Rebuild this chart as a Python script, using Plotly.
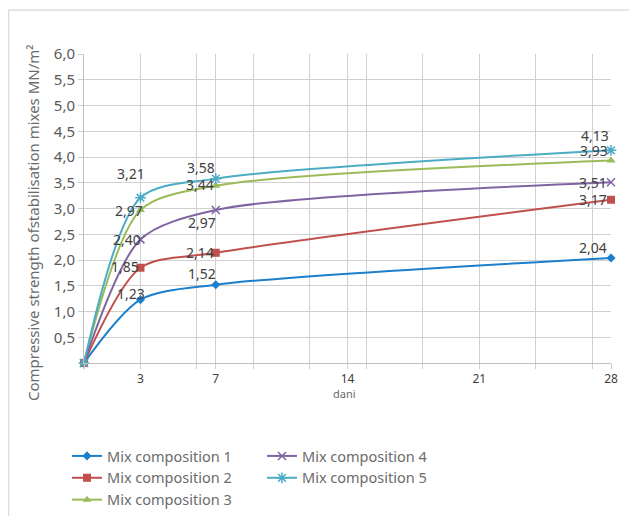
import plotly.graph_objects as go

days = [0, 3, 7, 28]
mix1 = [0, 1.23, 1.52, 2.04]
mix2 = [0, 1.85, 2.14, 3.17]
mix3 = [0, 2.97, 3.44, 3.93]
mix4 = [0, 2.40, 2.97, 3.51]
mix5 = [0, 3.21, 3.58, 4.13]
names = ["Mix composition 1", "Mix composition 2", "Mix composition 3",
         "Mix composition 4", "Mix composition 5"]
y_ticks = [0.5, 1.0, 1.5, 2.0, 2.5, 3.0, 3.5, 4.0, 4.5, 5.0, 5.5, 6.0]
x_ticks = [3, 7, 14, 21, 28]

series = [mix1, mix2, mix3, mix4, mix5]
colors = ["#1B7FCC", "#C0504D", "#9BBB59", "#8064A2", "#4BACC6"]
symbols = ["diamond", "square", "triangle-up", "x-thin-open", "asterisk-open"]
msizes = [7, 8, 8, 8, 9]
# label offsets (px) from each point: (dx, dy up), for days 3, 7, 28
label_offsets = [
    [(-9, 6), (-14, 11), (-18, 10)],
    [(-15, 1), (-16, 0), (-18, 0)],
    [(-11, 0), (-16, 1), (-17, 10)],
    [(-13, 0), (-14, -12), (-18, 0)],
    [(-9, 24), (-15, 11), (-16, 15)],
]
legend_ids = ["legend", "legend", "legend", "legend2", "legend2"]

def fmt(v):
    return f"{v:.2f}".replace(".", ",")

# page body adds an 8px offset; figure is sized so the picture lines up
OFF = 8
W, H = 637, 516
L, R, T, B = 84, 611, 54, 363
pw, ph = R - L, B - T

def px(x):
    return (x - L) / pw

def py(y):
    return (B - y) / ph

fig = go.Figure()
for i, s in enumerate(series):
    open_sym = symbols[i].endswith("open")
    fig.add_trace(go.Scatter(
        x=days, y=s, name=names[i], mode="lines+markers",
        line=dict(color=colors[i], width=2, shape="spline", smoothing=0.8),
        marker=dict(symbol=symbols[i], size=msizes[i], color=colors[i],
                    line=dict(color=colors[i], width=1.5 if open_sym else 0)),
        legend=legend_ids[i], cliponaxis=False,
    ))
    for j in range(1, len(days)):
        dx, dy = label_offsets[i][j - 1]
        fig.add_annotation(x=days[j], y=s[j], text=fmt(s[j]), showarrow=False,
                           xanchor="center", yanchor="middle", xshift=dx, yshift=dy,
                           font=dict(size=14, color="#404040"))

grid = "#D0D0D0"
leg_common = dict(orientation="v", xanchor="left", yanchor="top", tracegroupgap=0,
                  font=dict(size=14.5, color="#6B6B6B"), itemwidth=30,
                  bgcolor="rgba(0,0,0,0)")
fig.update_layout(
    width=W - OFF, height=H - OFF,
    margin=dict(l=L - OFF, r=W - R, t=T - OFF, b=H - B, autoexpand=False),
    paper_bgcolor="white", plot_bgcolor="white",
    font=dict(family="Noto Sans", color="#595959"),
    showlegend=True,
    legend=dict(x=px(67), y=py(440), **leg_common),
    legend2=dict(x=px(262), y=py(440), **leg_common),
    xaxis=dict(range=[0, 28], tickvals=x_ticks, ticktext=[str(v) for v in x_ticks],
               showgrid=True, gridcolor=grid, gridwidth=1,
               ticks="outside", ticklen=5, tickcolor=grid,
               tickfont=dict(size=12, color="#404040"),
               minor=dict(tickmode="linear", tick0=0, dtick=3, showgrid=True,
                          gridcolor=grid, gridwidth=1, ticks="outside", ticklen=5,
                          tickcolor=grid),
               showline=True, linecolor="#BFBFBF", linewidth=1, zeroline=False,
               fixedrange=True, automargin=False),
    yaxis=dict(range=[0, 6], tickvals=y_ticks,
               ticktext=[f"{v:.1f}".replace(".", ",") for v in y_ticks],
               showgrid=True, gridcolor=grid, gridwidth=1,
               ticks="outside", ticklen=5, tickcolor=grid,
               tickfont=dict(size=15, color="#595959"),
               showline=True, linecolor="#BFBFBF", linewidth=1, zeroline=False,
               fixedrange=True, automargin=False),
)

fig.add_annotation(text="Compressive strength ofstabilisation mixes MN/m²",
                   xref="paper", yref="paper", x=px(33), y=py(223),
                   xanchor="center", yanchor="middle",
                   textangle=-90, showarrow=False,
                   font=dict(size=15, color="#6B6B6B"))
fig.add_annotation(text="dani", xref="paper", yref="paper", x=px(344), y=py(393),
                   xanchor="center", yanchor="middle",
                   showarrow=False, font=dict(size=11, color="#6B6B6B"))

fig.add_shape(type="line", xref="paper", yref="paper", x0=px(8.5), x1=px(8.5),
              y0=py(10), y1=py(516), line=dict(color="#DCDCDC", width=1.5))
fig.add_shape(type="line", xref="paper", yref="paper", x0=px(8.5), x1=px(637),
              y0=py(10), y1=py(10), line=dict(color="#DCDCDC", width=1.5))

fig.write_html("out.html")
